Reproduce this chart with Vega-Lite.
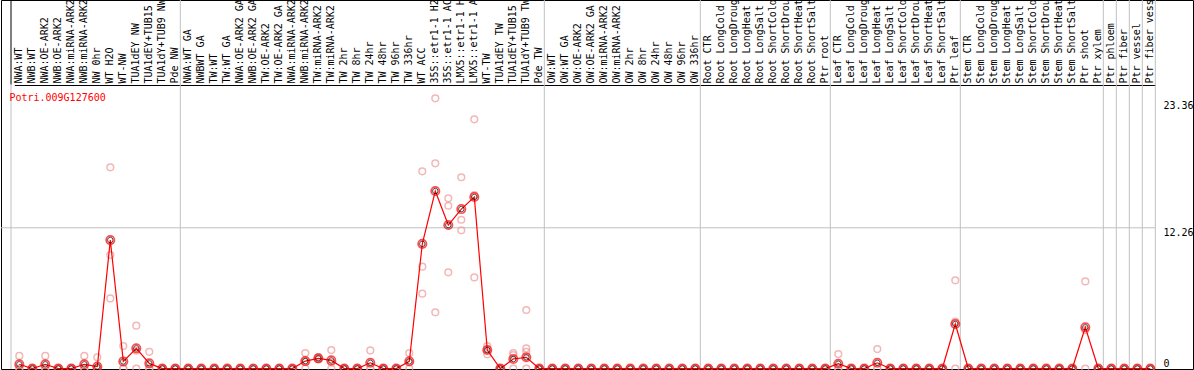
{
  "$schema": "https://vega.github.io/schema/vega-lite/v6.json",
  "width": 1192,
  "height": 369,
  "autosize": {"type": "none"},
  "padding": {"left": 1, "top": 0, "right": 1, "bottom": 1},
  "background": "white",
  "config": {"view": {"stroke": "black", "strokeWidth": 1}, "font": "DejaVu Sans Mono"},
  "data": {"values": [
    {"cat": "NWA:WT", "mean": 0.37, "r1": 1.1, "r2": 0, "r3": 0},
    {"cat": "NWB:WT", "mean": 0, "r1": 0, "r2": 0, "r3": 0},
    {"cat": "NWA:OE-ARK2", "mean": 0.37, "r1": 1.1, "r2": 0, "r3": 0},
    {"cat": "NWB:OE-ARK2", "mean": 0, "r1": 0, "r2": 0, "r3": 0},
    {"cat": "NWA:miRNA-ARK2", "mean": 0, "r1": 0, "r2": 0, "r3": 0},
    {"cat": "NWB:miRNA-ARK2", "mean": 0.37, "r1": 1.1, "r2": 0, "r3": 0},
    {"cat": "NW 0hr", "mean": 0.18, "r1": 0.98, "r2": 0, "r3": 0},
    {"cat": "WT H2O", "mean": 11.19, "r1": 17.53, "r2": 9.89, "r3": 6.11},
    {"cat": "WT-NW", "mean": 0.62, "r1": 1.96, "r2": 0, "r3": 0},
    {"cat": "TUA1dEY NW", "mean": 1.76, "r1": 3.73, "r2": 1.55, "r3": 0},
    {"cat": "TUA1dEY+TUB15 NW", "mean": 0.45, "r1": 1.46, "r2": 0, "r3": 0},
    {"cat": "TUA1dY+TUB9 NW", "mean": 0, "r1": 0, "r2": 0, "r3": 0},
    {"cat": "Pde NW", "mean": 0, "r1": 0, "r2": 0, "r3": 0},
    {"cat": "NWA:WT GA", "mean": 0, "r1": 0, "r2": 0, "r3": 0},
    {"cat": "NWBWT GA", "mean": 0, "r1": 0, "r2": 0, "r3": 0},
    {"cat": "TW:WT", "mean": 0, "r1": 0, "r2": 0, "r3": 0},
    {"cat": "TW:WT GA", "mean": 0, "r1": 0, "r2": 0, "r3": 0},
    {"cat": "NWA:OE-ARK2 GA", "mean": 0, "r1": 0, "r2": 0, "r3": 0},
    {"cat": "NWB:OE-ARK2 GA", "mean": 0, "r1": 0, "r2": 0, "r3": 0},
    {"cat": "TW:OE-ARK2", "mean": 0, "r1": 0, "r2": 0, "r3": 0},
    {"cat": "TW:OE-ARK2 GA", "mean": 0, "r1": 0, "r2": 0, "r3": 0},
    {"cat": "NWA:miRNA-ARK2 GA", "mean": 0, "r1": 0, "r2": 0, "r3": 0},
    {"cat": "NWB:miRNA-ARK2 GA", "mean": 0.65, "r1": 1.35, "r2": 0.6, "r3": 0},
    {"cat": "TW:miRNA-ARK2", "mean": 0.89, "r1": 1.0, "r2": 0.85, "r3": 0.82},
    {"cat": "TW:miRNA-ARK2 GA", "mean": 0.71, "r1": 1.61, "r2": 0.52, "r3": 0},
    {"cat": "TW 2hr", "mean": 0, "r1": 0, "r2": 0, "r3": 0},
    {"cat": "TW 8hr", "mean": 0, "r1": 0, "r2": 0, "r3": 0},
    {"cat": "TW 24hr", "mean": 0.5, "r1": 1.58, "r2": 0, "r3": 0},
    {"cat": "TW 48hr", "mean": 0, "r1": 0, "r2": 0, "r3": 0},
    {"cat": "TW 96hr", "mean": 0, "r1": 0, "r2": 0, "r3": 0},
    {"cat": "TW 336hr", "mean": 0.63, "r1": 1.35, "r2": 0.54, "r3": 0},
    {"cat": "WT ACC", "mean": 10.86, "r1": 17.18, "r2": 8.87, "r3": 6.52},
    {"cat": "35S::etr1-1 H2O", "mean": 15.46, "r1": 23.54, "r2": 17.87, "r3": 4.9},
    {"cat": "35S::etr1-1 ACC", "mean": 12.5, "r1": 14.83, "r2": 14.18, "r3": 8.38},
    {"cat": "LMX5::etr1-1 H2O", "mean": 13.89, "r1": 16.66, "r2": 12.96, "r3": 12.04},
    {"cat": "LMX5::etr1-1 ACC", "mean": 14.94, "r1": 21.71, "r2": 15.11, "r3": 7.94},
    {"cat": "WT-TW", "mean": 1.61, "r1": 1.96, "r2": 1.63, "r3": 1.24},
    {"cat": "TUA1dEY TW", "mean": 0, "r1": 0, "r2": 0, "r3": 0},
    {"cat": "TUA1dEY+TUB15 TW", "mean": 0.83, "r1": 1.35, "r2": 1.18, "r3": 0},
    {"cat": "TUA1dY+TUB9 TW", "mean": 0.98, "r1": 5.1, "r2": 1.76, "r3": 1.46, "r4": 0},
    {"cat": "Pde TW", "mean": 0, "r1": 0, "r2": 0, "r3": 0},
    {"cat": "OW:WT", "mean": 0, "r1": 0, "r2": 0, "r3": 0},
    {"cat": "OW:WT GA", "mean": 0, "r1": 0, "r2": 0, "r3": 0},
    {"cat": "OW:OE-ARK2", "mean": 0, "r1": 0, "r2": 0, "r3": 0},
    {"cat": "OW:OE-ARK2 GA", "mean": 0, "r1": 0, "r2": 0, "r3": 0},
    {"cat": "OW:miRNA-ARK2", "mean": 0, "r1": 0, "r2": 0, "r3": 0},
    {"cat": "OW:miRNA-ARK2 GA", "mean": 0, "r1": 0, "r2": 0, "r3": 0},
    {"cat": "OW 2hr", "mean": 0, "r1": 0, "r2": 0, "r3": 0},
    {"cat": "OW 8hr", "mean": 0, "r1": 0, "r2": 0, "r3": 0},
    {"cat": "OW 24hr", "mean": 0, "r1": 0, "r2": 0, "r3": 0},
    {"cat": "OW 48hr", "mean": 0, "r1": 0, "r2": 0, "r3": 0},
    {"cat": "OW 96hr", "mean": 0, "r1": 0, "r2": 0, "r3": 0},
    {"cat": "OW 336hr", "mean": 0, "r1": 0, "r2": 0, "r3": 0},
    {"cat": "Root CTR", "mean": 0, "r1": 0, "r2": 0, "r3": 0},
    {"cat": "Root LongCold", "mean": 0, "r1": 0, "r2": 0, "r3": 0},
    {"cat": "Root LongDrought", "mean": 0, "r1": 0, "r2": 0, "r3": 0},
    {"cat": "Root LongHeat", "mean": 0, "r1": 0, "r2": 0, "r3": 0},
    {"cat": "Root LongSalt", "mean": 0, "r1": 0, "r2": 0, "r3": 0},
    {"cat": "Root ShortCold", "mean": 0, "r1": 0, "r2": 0, "r3": 0},
    {"cat": "Root ShortDrought", "mean": 0, "r1": 0, "r2": 0, "r3": 0},
    {"cat": "Root ShortHeat", "mean": 0, "r1": 0, "r2": 0, "r3": 0},
    {"cat": "Root ShortSalt", "mean": 0, "r1": 0, "r2": 0, "r3": 0},
    {"cat": "Ptr root", "mean": 0, "r1": 0, "r2": 0, "r3": 0},
    {"cat": "Leaf CTR", "mean": 0.42, "r1": 1.26, "r2": 0, "r3": 0},
    {"cat": "Leaf LongCold", "mean": 0, "r1": 0, "r2": 0, "r3": 0},
    {"cat": "Leaf LongDrought", "mean": 0, "r1": 0, "r2": 0, "r3": 0},
    {"cat": "Leaf LongHeat", "mean": 0.5, "r1": 1.7, "r2": 0, "r3": 0},
    {"cat": "Leaf LongSalt", "mean": 0, "r1": 0, "r2": 0, "r3": 0},
    {"cat": "Leaf ShortCold", "mean": 0, "r1": 0, "r2": 0, "r3": 0},
    {"cat": "Leaf ShortDrought", "mean": 0, "r1": 0, "r2": 0, "r3": 0},
    {"cat": "Leaf ShortHeat", "mean": 0, "r1": 0, "r2": 0, "r3": 0},
    {"cat": "Leaf ShortSalt", "mean": 0, "r1": 0, "r2": 0, "r3": 0},
    {"cat": "Ptr leaf", "mean": 3.88, "r1": 7.68, "r2": 4.08, "r3": 0},
    {"cat": "Stem CTR", "mean": 0, "r1": 0, "r2": 0, "r3": 0},
    {"cat": "Stem LongCold", "mean": 0, "r1": 0, "r2": 0, "r3": 0},
    {"cat": "Stem LongDrought", "mean": 0, "r1": 0, "r2": 0, "r3": 0},
    {"cat": "Stem LongHeat", "mean": 0, "r1": 0, "r2": 0, "r3": 0},
    {"cat": "Stem LongSalt", "mean": 0, "r1": 0, "r2": 0, "r3": 0},
    {"cat": "Stem ShortCold", "mean": 0, "r1": 0, "r2": 0, "r3": 0},
    {"cat": "Stem ShortDrought", "mean": 0, "r1": 0, "r2": 0, "r3": 0},
    {"cat": "Stem ShortHeat", "mean": 0, "r1": 0, "r2": 0, "r3": 0},
    {"cat": "Stem ShortSalt", "mean": 0, "r1": 0, "r2": 0, "r3": 0},
    {"cat": "Ptr shoot", "mean": 3.59, "r1": 7.59, "r2": 3.35, "r3": 0},
    {"cat": "Ptr xylem", "mean": 0, "r1": 0, "r2": 0, "r3": 0},
    {"cat": "Ptr phloem", "mean": 0, "r1": 0, "r2": 0, "r3": 0},
    {"cat": "Ptr fiber", "mean": 0, "r1": 0, "r2": 0, "r3": 0},
    {"cat": "Ptr vessel", "mean": 0, "r1": 0, "r2": 0, "r3": 0},
    {"cat": "Ptr fiber vessel", "mean": 0, "r1": 0, "r2": 0, "r3": 0}
  ]},
  "layer": [
    {
      "transform": [{"filter": {"field": "cat", "oneOf": ["Pde NW", "Pde TW", "OW 336hr", "Ptr root", "Ptr leaf", "Ptr xylem", "Ptr phloem", "Ptr fiber", "Ptr vessel", "Ptr fiber vessel"]}}],
      "mark": {"type": "rule", "color": "#c0c0c0", "strokeWidth": 1},
      "encoding": {
        "x": {
          "field": "cat", "type": "nominal", "bandPosition": 1,
          "scale": {
            "type": "band",
            "domain": ["NWA:WT","NWB:WT","NWA:OE-ARK2","NWB:OE-ARK2","NWA:miRNA-ARK2","NWB:miRNA-ARK2","NW 0hr","WT H2O","WT-NW","TUA1dEY NW","TUA1dEY+TUB15 NW","TUA1dY+TUB9 NW","Pde NW","NWA:WT GA","NWBWT GA","TW:WT","TW:WT GA","NWA:OE-ARK2 GA","NWB:OE-ARK2 GA","TW:OE-ARK2","TW:OE-ARK2 GA","NWA:miRNA-ARK2 GA","NWB:miRNA-ARK2 GA","TW:miRNA-ARK2","TW:miRNA-ARK2 GA","TW 2hr","TW 8hr","TW 24hr","TW 48hr","TW 96hr","TW 336hr","WT ACC","35S::etr1-1 H2O","35S::etr1-1 ACC","LMX5::etr1-1 H2O","LMX5::etr1-1 ACC","WT-TW","TUA1dEY TW","TUA1dEY+TUB15 TW","TUA1dY+TUB9 TW","Pde TW","OW:WT","OW:WT GA","OW:OE-ARK2","OW:OE-ARK2 GA","OW:miRNA-ARK2","OW:miRNA-ARK2 GA","OW 2hr","OW 8hr","OW 24hr","OW 48hr","OW 96hr","OW 336hr","Root CTR","Root LongCold","Root LongDrought","Root LongHeat","Root LongSalt","Root ShortCold","Root ShortDrought","Root ShortHeat","Root ShortSalt","Ptr root","Leaf CTR","Leaf LongCold","Leaf LongDrought","Leaf LongHeat","Leaf LongSalt","Leaf ShortCold","Leaf ShortDrought","Leaf ShortHeat","Leaf ShortSalt","Ptr leaf","Stem CTR","Stem LongCold","Stem LongDrought","Stem LongHeat","Stem LongSalt","Stem ShortCold","Stem ShortDrought","Stem ShortHeat","Stem ShortSalt","Ptr shoot","Ptr xylem","Ptr phloem","Ptr fiber","Ptr vessel","Ptr fiber vessel"],
            "range": [13.3, 1154.3],
            "paddingInner": 0.2308,
            "paddingOuter": 0
          },
          "axis": {
            "orient": "top", "offset": -85, "title": null,
            "labelAngle": 270, "labelAlign": "left", "labelBaseline": "middle",
            "labelPadding": 2, "ticks": false, "tickSize": 0, "grid": false,
            "domain": true, "domainColor": "black", "domainWidth": 1,
            "labelFont": "DejaVu Sans Mono", "labelFontSize": 10, "labelColor": "black",
            "labelOverlap": false, "labelLimit": 300, "labelBound": false,
            "labelExpr": "substring(datum.label, 0, 14)"
          }
        }
      }
    },
    {
      "data": {"values": [{}]},
      "mark": {"type": "rule", "color": "#c0c0c0", "strokeWidth": 1},
      "encoding": {
        "x": {"datum": "NWA:WT", "type": "nominal", "bandPosition": -0.33},
        "y": {"datum": 24.74, "type": "quantitative"},
        "y2": {"datum": -0.04}
      }
    },
    {
      "data": {"values": [{}]},
      "mark": {"type": "rule", "color": "black", "strokeWidth": 1},
      "encoding": {
        "x": {"datum": "NWA:WT", "type": "nominal", "bandPosition": -0.33},
        "y": {"datum": 32.1, "type": "quantitative"},
        "y2": {"datum": 24.74}
      }
    },
    {
      "data": {"values": [{}]},
      "mark": {"type": "rule", "color": "#c0c0c0", "strokeWidth": 1},
      "encoding": {
        "x": {"datum": "NWA:WT", "type": "nominal", "bandPosition": -1.33},
        "x2": {"datum": "Ptr fiber vessel", "bandPosition": 1},
        "y": {"datum": 12.26, "type": "quantitative"}
      }
    },
    {
      "transform": [
        {"fold": ["r1", "r2", "r3", "r4"], "as": ["rep", "value"]},
        {"filter": "isValid(datum.value)"}
      ],
      "mark": {"type": "point", "shape": "circle", "filled": false, "color": "#ee9a9a", "size": 45, "strokeWidth": 1.5},
      "encoding": {
        "x": {"field": "cat", "type": "nominal"},
        "y": {"field": "value", "type": "quantitative"}
      }
    },
    {
      "mark": {"type": "line", "color": "#ff0000", "strokeWidth": 1.2},
      "encoding": {
        "x": {"field": "cat", "type": "nominal"},
        "y": {
          "field": "mean", "type": "quantitative",
          "scale": {"domain": [-0.04, 32.1], "nice": false, "zero": false},
          "axis": {
            "orient": "right", "offset": -32, "title": null,
            "values": [0, 12.26, 23.36], "format": ".4~g",
            "grid": false, "domain": false, "ticks": false, "tickSize": 0,
            "labelPadding": 2, "labelAlign": "left",
            "labelBaseline": {"condition": {"test": "datum.value === 0", "value": "bottom"}, "value": "top"},
            "labelFont": "DejaVu Sans Mono", "labelFontSize": 10, "labelColor": "black",
            "labelOverlap": false, "labelBound": false, "labelFlush": false
          }
        }
      }
    },
    {
      "mark": {"type": "point", "shape": "circle", "filled": false, "color": "#ff0000", "size": 70, "strokeWidth": 1.7},
      "encoding": {
        "x": {"field": "cat", "type": "nominal"},
        "y": {"field": "mean", "type": "quantitative"}
      }
    },
    {
      "mark": {"type": "point", "shape": "circle", "filled": false, "color": "black", "size": 30, "strokeWidth": 1},
      "encoding": {
        "x": {"field": "cat", "type": "nominal"},
        "y": {"field": "mean", "type": "quantitative"}
      }
    },
    {
      "data": {"values": [{"gene": "Potri.009G127600"}]},
      "mark": {"type": "text", "color": "#ff0000", "font": "DejaVu Sans Mono", "fontSize": 10, "align": "left", "baseline": "top"},
      "encoding": {
        "x": {"datum": "NWA:WT", "type": "nominal", "bandPosition": -0.49},
        "y": {"datum": 24.0, "type": "quantitative"},
        "text": {"field": "gene", "type": "nominal"}
      }
    }
  ]
}
